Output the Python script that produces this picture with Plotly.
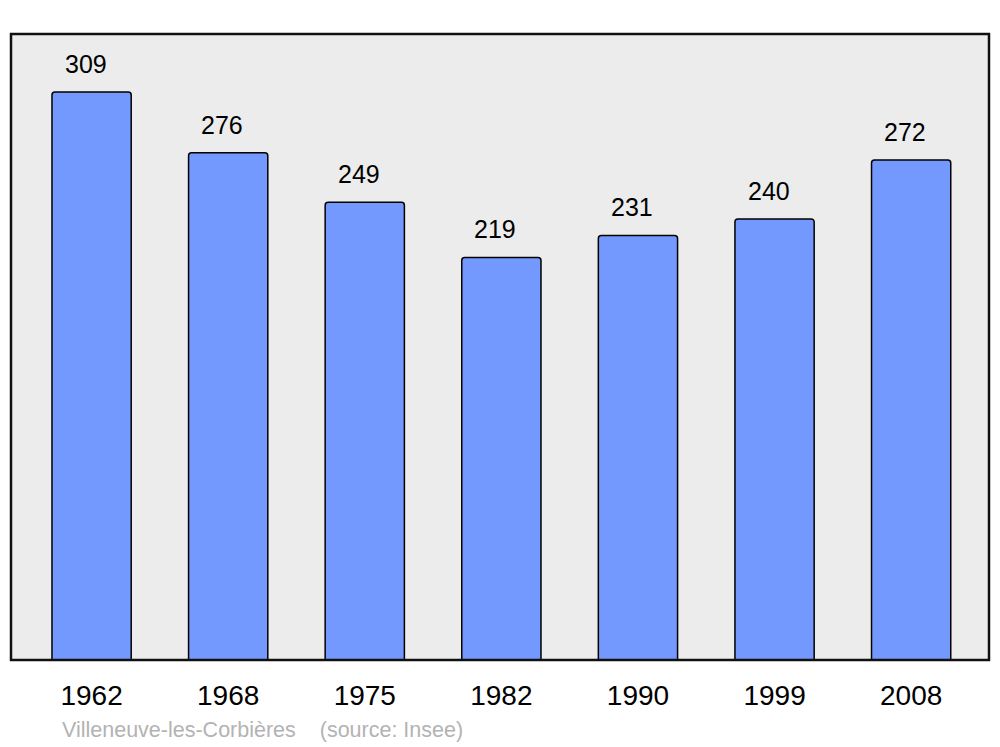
import plotly.graph_objects as go

years = ["1962", "1968", "1975", "1982", "1990", "1999", "2008"]
population = [309, 276, 249, 219, 231, 240, 272]
source_text = "Villeneuve-les-Corbières    (source: Insee)"

fig = go.Figure()
fig.add_trace(go.Bar(
    x=years, y=population, width=0.58,
    marker=dict(color="#7399ff", line=dict(color="#000000", width=1.5), cornerradius=3),
    hoverinfo="x+y",
))

for i, v in enumerate(population):
    fig.add_annotation(x=i, y=v, text=str(v), showarrow=False, yanchor="bottom",
                       yshift=12, xshift=-6,
                       font=dict(family="Liberation Sans, Arial", size=25, color="#000000"))

fig.add_annotation(xref="paper", yref="paper", x=0.05, y=-0.112, xanchor="left", yanchor="middle",
                   text=source_text, showarrow=False,
                   font=dict(family="Liberation Sans, Arial", size=21.5, color="#b3b3b3"))

fig.add_shape(type="rect", xref="paper", yref="paper", x0=0, y0=0, x1=1, y1=1,
              line=dict(color="#111111", width=2.5), layer="above")

fig.update_layout(
    width=1000, height=747,
    margin=dict(l=11, r=11, t=34, b=87),
    paper_bgcolor="#ffffff", plot_bgcolor="#ececec",
    showlegend=False,
    xaxis=dict(type="category", range=[-0.59, 6.57], showgrid=False, zeroline=False,
               showline=False, ticks="outside", ticklen=10, tickcolor="rgba(0,0,0,0)",
               tickfont=dict(family="Liberation Sans, Arial", size=28, color="#000000")),
    yaxis=dict(range=[0, 340.6], showgrid=False, zeroline=False, showline=False,
               showticklabels=False, ticks=""),
)

fig.write_html("out.html", config={"displayModeBar": False},
               post_script="document.body.style.margin='0';")
